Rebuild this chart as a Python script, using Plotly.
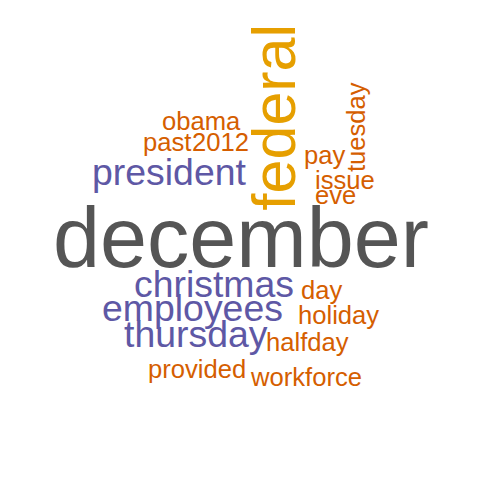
import plotly.graph_objects as go

# word cloud data
words = ["december", "federal", "president", "christmas", "employees", "thursday",
         "obama", "past", "2012", "pay", "tuesday", "issue", "eve",
         "day", "holiday", "halfday", "provided", "workforce"]
freqs = [12, 8, 4, 4, 4, 4,
         2, 2, 2, 2, 2, 2, 2,
         2, 2, 2, 2, 2]

# layout of the cloud (word centres in pixel space, rotation)
pos_x = [241.3, 273.9, 168.9, 213.7, 192.8, 195.8,
         201.7, 166.7, 220.3, 324.0, 356.1, 344.5, 335.0,
         321.7, 338.5, 307.2, 196.7, 306.2]
pos_y = [237.3, 117.5, 172.0, 284.3, 308.3, 333.7,
         121.4, 142.1, 142.1, 155.4, 127.0, 180.4, 195.4,
         290.4, 314.7, 342.1, 368.7, 377.1]
angles = [0, -90, 0, 0, 0, 0,
          0, 0, 0, 0, -90, 0, 0,
          0, 0, 0, 0, 0]

palette = {12: "#555555", 8: "#E69F00", 4: "#5E58A5", 2: "#D55E00"}

def font_size(f):
    return 13.84 + 5.894 * f

fig = go.Figure()
fig.add_trace(go.Scatter(x=[8, 488], y=[8, 488], mode="markers",
                         marker=dict(opacity=0), hoverinfo="skip", showlegend=False))
for w, f, x, y, a in zip(words, freqs, pos_x, pos_y, angles):
    fig.add_annotation(x=x, y=y, xref="x", yref="y", text=w, showarrow=False,
                       textangle=a, xanchor="center", yanchor="middle",
                       font=dict(family="Liberation Sans, Arial, sans-serif",
                                 size=font_size(f), color=palette[f]))

# page body has an 8px margin, so the axes start at 8 to keep page pixel coords
fig.update_layout(width=480, height=480, margin=dict(l=0, r=0, t=0, b=0),
                  paper_bgcolor="white", plot_bgcolor="white",
                  xaxis=dict(range=[8, 488], visible=False, fixedrange=True),
                  yaxis=dict(range=[488, 8], visible=False, fixedrange=True),
                  showlegend=False)
fig.write_html("out.html")
